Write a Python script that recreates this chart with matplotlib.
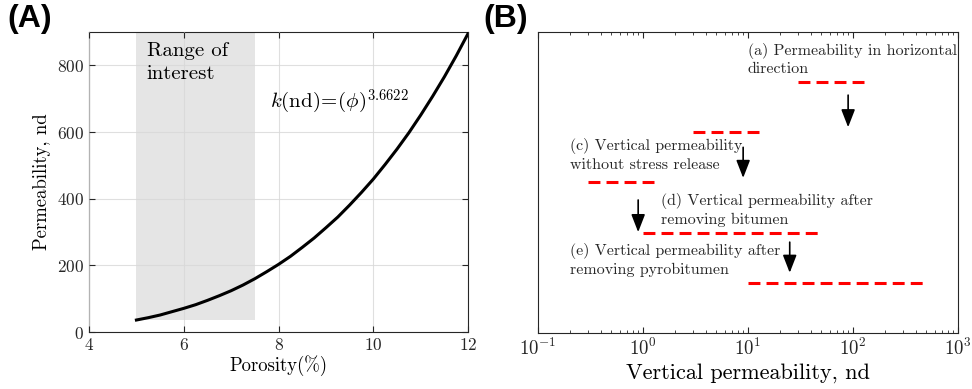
import numpy as np
import matplotlib
matplotlib.use('Agg')
import matplotlib.pyplot as plt

plt.rcParams['font.family'] = 'cmr10'
plt.rcParams['mathtext.fontset'] = 'cm'
plt.rcParams['axes.formatter.use_mathtext'] = True

# panel A: porosity vs permeability, k(nd) = (phi)^3.6622
porosity = [5.0, 5.25, 5.5, 5.75, 6.0, 6.25, 6.5, 6.75, 7.0, 7.25, 7.5, 7.75,
            8.0, 8.25, 8.5, 8.75, 9.0, 9.25, 9.5, 9.75, 10.0, 10.25, 10.5,
            10.75, 11.0, 11.25, 11.5, 11.75, 12.0]
perm = [36, 43, 51, 61, 71, 82, 95, 109, 124, 141, 160, 181,
        203, 227, 254, 282, 313, 345, 381, 419, 459, 503, 549,
        598, 651, 707, 766, 829, 896]
roi = [5.0, 7.5]          # range of interest (porosity %)
roi_k = [36, 900]

# panel B: permeability ranges (nd)
rng_low = [30, 3, 0.3, 1, 10]
rng_high = [130, 13, 1.3, 50, 500]
rng_level = [5, 4, 3, 2, 1]
arrow_x = [90, 9, 0.9, 25]
arrow_top = [4.74, 3.70, 2.65, 1.81]
arrow_bot = [4.10, 3.09, 2.01, 1.20]
labels = ['(a) Permeability in horizontal\ndirection',
          '(c) Vertical permeability\nwithout stress release',
          '(d) Vertical permeability after\nremoving bitumen',
          '(e) Vertical permeability after\nremoving pyrobitumen']
label_x = [10, 0.2, 1.5, 0.2]
label_y = [5.45, 3.55, 2.45, 1.45]

fig = plt.figure(figsize=(9.72, 3.89), dpi=100)
ax1 = fig.add_axes([0.0916, 0.1465, 0.390, 0.771])
ax2 = fig.add_axes([0.5535, 0.144, 0.432, 0.774])

# ---- panel A
ax1.fill_between(roi, [roi_k[0]] * 2, [roi_k[1]] * 2, color='#e5e5e5', lw=0, zorder=1)
ax1.plot(porosity, perm, color='k', lw=2.2, zorder=3)
ax1.set_xlim(4, 12)
ax1.set_ylim(0, 900)
ax1.set_xticks([4, 6, 8, 10, 12])
ax1.set_yticks([0, 200, 400, 600, 800])
ax1.grid(True, color='#d8d8d8', lw=0.8, alpha=0.8)
ax1.set_axisbelow(False)
ax1.tick_params(direction='in', labelsize=12.5, top=True, right=True, length=4,
                colors='#262626')
ax1.set_xlabel('Porosity(%)', fontsize=13.5, labelpad=2)
ax1.set_ylabel('Permeability, nd', fontsize=13.5, labelpad=4)
ax1.text(5.22, 808, 'Range of\ninterest', fontsize=15, va='center', ha='left',
         linespacing=1.4, zorder=4)
ax1.text(7.82, 692, r'$k(\mathrm{nd})\!=\!(\phi)^{3.6622}$', fontsize=15,
         va='center', ha='left', zorder=4)
for s in ax1.spines.values():
    s.set_color('#262626')

# ---- panel B
ax2.set_xscale('log')
for lo, hi, lv in zip(rng_low, rng_high, rng_level):
    ax2.plot([lo, hi], [lv, lv], color='#ff0000', lw=2.2, linestyle=(0, (3.9, 2.0)))
for x, y0, y1 in zip(arrow_x, arrow_top, arrow_bot):
    ax2.annotate('', xy=(x, y1), xytext=(x, y0),
                 arrowprops=dict(arrowstyle='-|>,head_length=0.9,head_width=0.35',
                                 color='k', lw=1.2, shrinkA=0, shrinkB=0,
                                 mutation_scale=12))
for lab, x, y in zip(labels, label_x, label_y):
    ax2.text(x, y, lab, fontsize=11.5, va='center', ha='left', linespacing=1.35,
             color='#262626')
ax2.set_xlim(0.1, 1000)
ax2.set_ylim(0, 6)
ax2.set_yticks([])
ax2.tick_params(axis='x', which='both', direction='in', top=True, labelsize=13.5,
                colors='#262626')
ax2.tick_params(axis='x', which='major', length=4)
ax2.tick_params(axis='x', which='minor', length=2)
ax2.set_xlabel('Vertical permeability, nd', fontsize=16, labelpad=3)
for s in ax2.spines.values():
    s.set_color('#262626')

fig.text(0.008, 0.99, '(A)', fontsize=23, fontweight='bold',
         family='Liberation Sans', va='top', ha='left')
fig.text(0.497, 0.99, '(B)', fontsize=23, fontweight='bold',
         family='Liberation Sans', va='top', ha='left')

fig.savefig('out.png', dpi=100)
